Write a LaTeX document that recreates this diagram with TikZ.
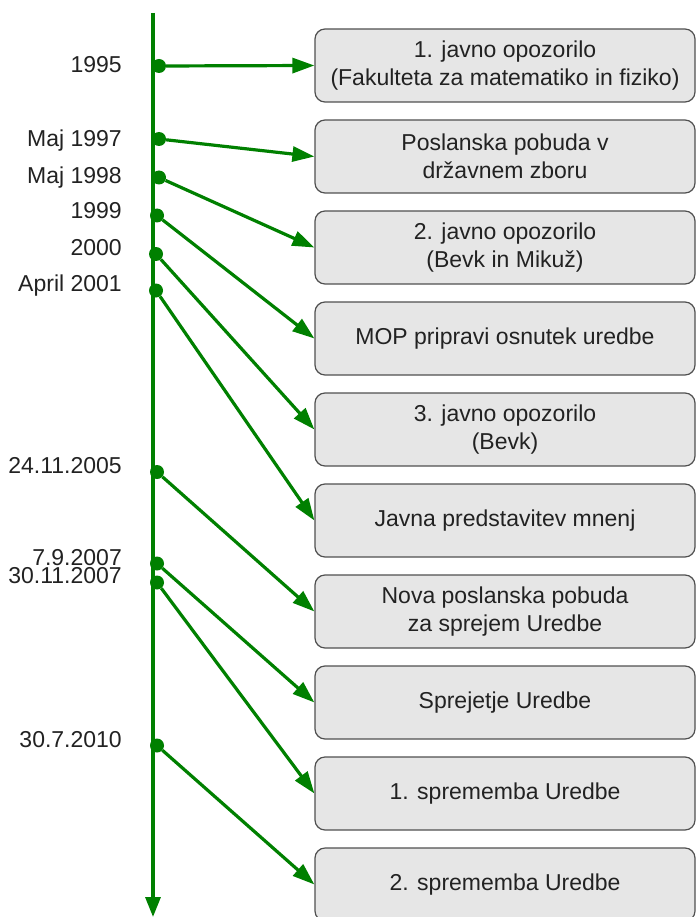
\documentclass[tikz,border=0pt]{standalone}
\usepackage{fontspec}
\setmainfont{Liberation Sans}
\usetikzlibrary{arrows.meta}
\definecolor{tlgreen}{RGB}{0,128,0}
\definecolor{boxfill}{RGB}{230,230,230}
\definecolor{boxline}{RGB}{80,80,80}
\definecolor{txt}{RGB}{34,34,34}
\begin{document}
\begin{tikzpicture}[x=1pt,y=-1pt,
 event/.style={draw=boxline, fill=boxfill, line width=1.2pt, rounded corners=10pt, minimum width=380pt, minimum height=73pt, inner sep=0pt, align=center, font=\fontsize{23}{27.5}\selectfont, text=txt},
 datelabel/.style={anchor=base east, inner sep=0pt, font=\fontsize{23}{24}\selectfont, text=txt},
 dot/.style={circle, fill=tlgreen, inner sep=0pt, minimum size=14pt},
 link/.style={draw=tlgreen, line width=3.2pt, -{Triangle[length=22pt,width=15pt]}},
 axis/.style={draw=tlgreen, line width=3.3pt, -{Triangle[length=20pt,width=15pt]}},
]
\useasboundingbox (0,0) rectangle (696,917);

% timeline
\coordinate (ttop) at (153,13);
\coordinate (tbot) at (153,917);
\draw[axis] (ttop) -- (tbot);

% boxes
\node[event] (b1) at (505,65.5) {1. javno opozorilo\\(Fakulteta za matematiko in fiziko)};
\node[event] (b2) at (505,156.5) {Poslanska pobuda v\\državnem zboru};
\node[event] (b3) at (505,247.5) {2. javno opozorilo\\(Bevk in Mikuž)};
\node[event] (b4) at (505,338.5) {MOP pripravi osnutek uredbe};
\node[event] (b5) at (505,429.5) {3. javno opozorilo\\(Bevk)};
\node[event] (b6) at (505,520.5) {Javna predstavitev mnenj};
\node[event] (b7) at (505,611.5) {Nova poslanska pobuda\\za sprejem Uredbe};
\node[event] (b8) at (505,702.5) {Sprejetje Uredbe};
\node[event] (b9) at (505,793.5) {1. sprememba Uredbe};
\node[event] (b10) at (505,884.5) {2. sprememba Uredbe};

% dots
\node[dot] (d1) at (159,66) {};
\node[dot] (d2) at (159,139) {};
\node[dot] (d3) at (159,177.5) {};
\node[dot] (d4) at (157,215.5) {};
\node[dot] (d5) at (156,254) {};
\node[dot] (d6) at (156,290.5) {};
\node[dot] (d7) at (157,472) {};
\node[dot] (d8) at (157,563.5) {};
\node[dot] (d9) at (157,582.5) {};
\node[dot] (d10) at (157,745.5) {};

% labels
\node[datelabel] (l1) at (122,72.7) {1995};
\node[datelabel] (l2) at (122,146.5) {Maj 1997};
\node[datelabel] (l3) at (122,183.3) {Maj 1998};
\node[datelabel] (l4) at (122,218.3) {1999};
\node[datelabel] (l5) at (122,255) {2000};
\node[datelabel] (l6) at (122,291.5) {April 2001};
\node[datelabel] (l7) at (122,473.5) {24.11.2005};
\node[datelabel] (l8) at (122,565) {7.9.2007};
\node[datelabel] (l9) at (122,583.5) {30.11.2007};
\node[datelabel] (l10) at (122,747.5) {30.7.2010};

% links
\draw[link] (d1) -- (b1.west);
\draw[link] (d2) -- (b2.west);
\draw[link] (d3) -- (b3.west);
\draw[link] (d4) -- (b4.west);
\draw[link] (d5) -- (b5.west);
\draw[link] (d6) -- (b6.west);
\draw[link] (d7) -- (b7.west);
\draw[link] (d8) -- (b8.west);
\draw[link] (d9) -- (b9.west);
\draw[link] (d10) -- (b10.west);
\end{tikzpicture}
\end{document}
